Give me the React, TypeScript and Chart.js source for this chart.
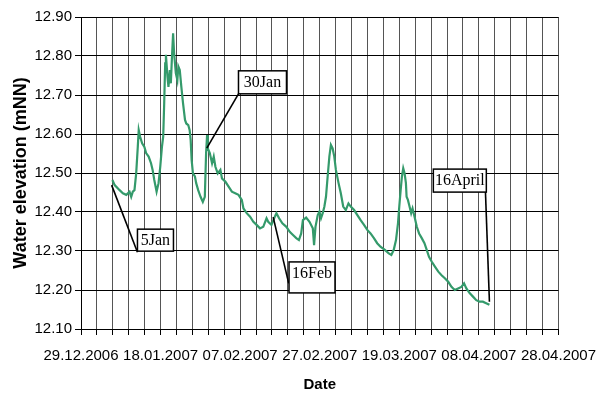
import React, { useEffect, useRef } from 'react';
import { Chart, registerables } from 'chart.js';

Chart.register(...registerables);

// x axis: days since 29.12.2006
const xTickLabels = ['29.12.2006', '18.01.2007', '07.02.2007', '27.02.2007', '19.03.2007', '08.04.2007', '28.04.2007'];
const yTickValues = [12.1, 12.2, 12.3, 12.4, 12.5, 12.6, 12.7, 12.8, 12.9];

const januaryDays = [7.89, 8.46, 9.71, 10.53, 11.38, 12.2, 12.62, 13.02, 13.44, 13.87, 14.27, 14.51, 14.86, 15.36, 15.93, 16.36, 17.0, 17.6, 18.0, 18.42, 19.0, 19.49, 19.92, 20.34, 20.66, 20.91, 21.16, 21.34, 21.73, 21.98, 22.33, 22.58, 22.83, 23.15, 23.4, 23.83, 24.22, 24.47, 24.82, 25.22, 25.64, 26.14, 26.46, 26.96, 27.31, 27.56, 27.81, 28.13, 28.63, 28.95, 29.45, 30.05, 30.62, 31.12, 31.44, 31.69];
const januaryLevels = [12.482, 12.469, 12.456, 12.448, 12.444, 12.452, 12.439, 12.452, 12.456, 12.499, 12.567, 12.61, 12.593, 12.576, 12.567, 12.551, 12.542, 12.525, 12.508, 12.482, 12.452, 12.474, 12.516, 12.567, 12.593, 12.679, 12.781, 12.803, 12.747, 12.721, 12.764, 12.73, 12.79, 12.858, 12.807, 12.756, 12.738, 12.773, 12.764, 12.721, 12.679, 12.636, 12.627, 12.623, 12.61, 12.585, 12.533, 12.499, 12.491, 12.474, 12.456, 12.439, 12.426, 12.439, 12.551, 12.597];

const februaryDays = [31.87, 32.37, 32.94, 33.36, 33.78, 34.36, 35.03, 35.43, 36.27, 37.1, 37.92, 38.76, 39.58, 40.41, 40.83, 41.65, 42.5, 43.32, 44.14, 44.99, 45.81, 46.63, 47.05, 47.87, 48.72, 49.12, 49.79, 50.61, 51.61, 52.46, 53.28, 54.1, 54.77, 55.34, 55.77];
const februaryLevels = [12.563, 12.551, 12.525, 12.542, 12.516, 12.499, 12.508, 12.486, 12.478, 12.465, 12.452, 12.448, 12.444, 12.431, 12.409, 12.397, 12.388, 12.375, 12.367, 12.358, 12.362, 12.384, 12.375, 12.367, 12.388, 12.397, 12.384, 12.371, 12.362, 12.349, 12.341, 12.333, 12.328, 12.345, 12.379];

const marchDays = [56.59, 57.43, 58.26, 58.58, 58.93, 59.5, 59.93, 60.32, 60.75, 61.17, 61.57, 61.99, 62.42, 62.81, 63.24, 63.66, 64.06, 64.73, 65.3, 65.9, 66.55, 67.22, 67.79, 68.64, 69.46, 70.28, 71.13, 71.95, 72.77, 73.62, 74.44, 75.26, 76.36, 77.35, 78.0, 78.6];
const marchLevels = [12.386, 12.375, 12.358, 12.315, 12.362, 12.392, 12.401, 12.384, 12.397, 12.414, 12.439, 12.491, 12.542, 12.572, 12.563, 12.542, 12.508, 12.474, 12.448, 12.414, 12.405, 12.422, 12.414, 12.405, 12.392, 12.379, 12.367, 12.354, 12.345, 12.333, 12.32, 12.311, 12.303, 12.294, 12.29, 12.303];

const aprilDays = [79.17, 79.67, 79.99, 80.34, 80.66, 80.99, 81.33, 81.66, 81.83, 82.16, 82.48, 82.98, 83.33, 83.83, 84.4, 84.97, 85.64, 86.32, 86.89, 87.46, 88.13, 88.95, 89.8, 90.62, 91.44, 92.29, 93.11, 93.93, 94.78, 95.6, 96.27, 96.85, 97.67, 98.52, 99.34, 100.16, 101.0, 101.83, 102.65];
const aprilLevels = [12.328, 12.371, 12.414, 12.456, 12.491, 12.512, 12.499, 12.474, 12.439, 12.431, 12.418, 12.397, 12.409, 12.388, 12.362, 12.345, 12.333, 12.32, 12.303, 12.285, 12.273, 12.26, 12.247, 12.238, 12.23, 12.221, 12.208, 12.2, 12.204, 12.208, 12.217, 12.204, 12.192, 12.183, 12.174, 12.17, 12.17, 12.166, 12.162];

// callouts (data coordinates)
const calloutTexts = ['5Jan', '30Jan', '16Feb', '16April'];
const calloutAnchorDays = [7.7, 31.62, 48.3, 102.65];
const calloutAnchorLevels = [12.469, 12.564, 12.387, 12.17];
const calloutLineEndDays = [14.19, 39.58, 52.2, 101.65];
const calloutLineEndLevels = [12.297, 12.703, 12.217, 12.452];
const calloutBoxDays = [14.19, 39.58, 52.28, 88.55];
const calloutBoxLevels = [12.356, 12.762, 12.272, 12.51];
const calloutBoxWidths = [36, 48, 46, 53];
const calloutBoxHeights = [22, 23, 31, 23];

const allDays = [...januaryDays, ...februaryDays, ...marchDays, ...aprilDays];
const allLevels = [...januaryLevels, ...februaryLevels, ...marchLevels, ...aprilLevels];

const calloutPlugin = {
  id: 'callouts',
  afterDatasetsDraw(chart: any) {
    const { ctx } = chart;
    const xs = chart.scales.x;
    const ys = chart.scales.y;
    ctx.save();
    ctx.strokeStyle = '#000';
    ctx.lineWidth = 1.6;
    for (let i = 0; i < calloutTexts.length; i++) {
      ctx.beginPath();
      ctx.moveTo(xs.getPixelForValue(calloutAnchorDays[i]), ys.getPixelForValue(calloutAnchorLevels[i]));
      ctx.lineTo(xs.getPixelForValue(calloutLineEndDays[i]), ys.getPixelForValue(calloutLineEndLevels[i]));
      ctx.stroke();
    }
    for (let i = 0; i < calloutTexts.length; i++) {
      const left = xs.getPixelForValue(calloutBoxDays[i]);
      const top = ys.getPixelForValue(calloutBoxLevels[i]);
      const w = calloutBoxWidths[i];
      const h = calloutBoxHeights[i];
      ctx.fillStyle = '#fff';
      ctx.fillRect(left, top, w, h);
      ctx.lineWidth = 1.5;
      ctx.strokeRect(left, top, w, h);
      ctx.fillStyle = '#000';
      ctx.font = '16px "Liberation Serif", "Times New Roman", serif';
      ctx.textAlign = 'center';
      ctx.textBaseline = 'middle';
      ctx.fillText(calloutTexts[i], left + w / 2, top + 11.5);
    }
    ctx.restore();
  },
};

export default function App() {
  const canvasRef = useRef<HTMLCanvasElement | null>(null);

  useEffect(() => {
    if (!canvasRef.current) return;
    const points = allDays.map((d, i) => ({ x: d, y: allLevels[i] }));
    const tickFont = { family: '"Liberation Sans", Arial, sans-serif', size: 15 };
    const chart = new Chart(canvasRef.current, {
      type: 'line',
      data: {
        datasets: [
          {
            label: 'Water elevation',
            data: points,
            borderColor: '#349a6b',
            borderWidth: 2.2,
            pointRadius: 0,
            tension: 0,
            fill: false,
          },
        ],
      },
      options: {
        animation: false,
        responsive: true,
        maintainAspectRatio: false,
        parsing: false as any,
        layout: { padding: { top: 17, right: 45, left: 0, bottom: 0 } },
        plugins: {
          legend: { display: false },
          tooltip: { enabled: false },
        },
        scales: {
          x: {
            type: 'linear',
            min: 0,
            max: 120,
            afterFit: (s: any) => {
              s.height = 83;
            },
            afterBuildTicks: (s: any) => {
              const t = [];
              for (let v = 0; v <= 120; v += 4) t.push({ value: v });
              s.ticks = t;
            },
            ticks: {
              autoSkip: false,
              maxRotation: 0,
              padding: 12,
              color: '#000',
              font: tickFont,
              callback: (v: any) => (Number(v) % 20 === 0 ? xTickLabels[Number(v) / 20] : ''),
            },
            grid: { color: '#555', lineWidth: 1, tickLength: 6, tickColor: '#000' },
            border: { color: '#000', width: 1 },
            title: {
              display: true,
              text: 'Date',
              color: '#000',
              font: { family: '"Liberation Sans", Arial, sans-serif', size: 15, weight: 'bold' },
              padding: { top: 0, bottom: 18 },
            },
          },
          y: {
            type: 'linear',
            min: 12.1,
            max: 12.9,
            afterFit: (s: any) => {
              s.width = 81;
            },
            afterBuildTicks: (s: any) => {
              s.ticks = yTickValues.map((v) => ({ value: v }));
            },
            ticks: {
              padding: 3,
              color: '#000',
              font: tickFont,
              callback: (v: any) => Number(v).toFixed(2),
            },
            grid: { color: '#000', lineWidth: 1, tickLength: 6, tickColor: '#000' },
            border: { color: '#000', width: 1 },
            title: {
              display: true,
              text: 'Water elevation (mNN)',
              color: '#000',
              font: { family: '"Liberation Sans", Arial, sans-serif', size: 18, weight: 'bold' },
              padding: { top: 10, bottom: 0 },
            },
          },
        },
      },
      plugins: [calloutPlugin],
    });
    return () => chart.destroy();
  }, []);

  return (
    <div style={{ position: 'fixed', left: 0, top: 0, width: 608, height: 412, background: '#fff' }}>
      <canvas ref={canvasRef} />
    </div>
  );
}
